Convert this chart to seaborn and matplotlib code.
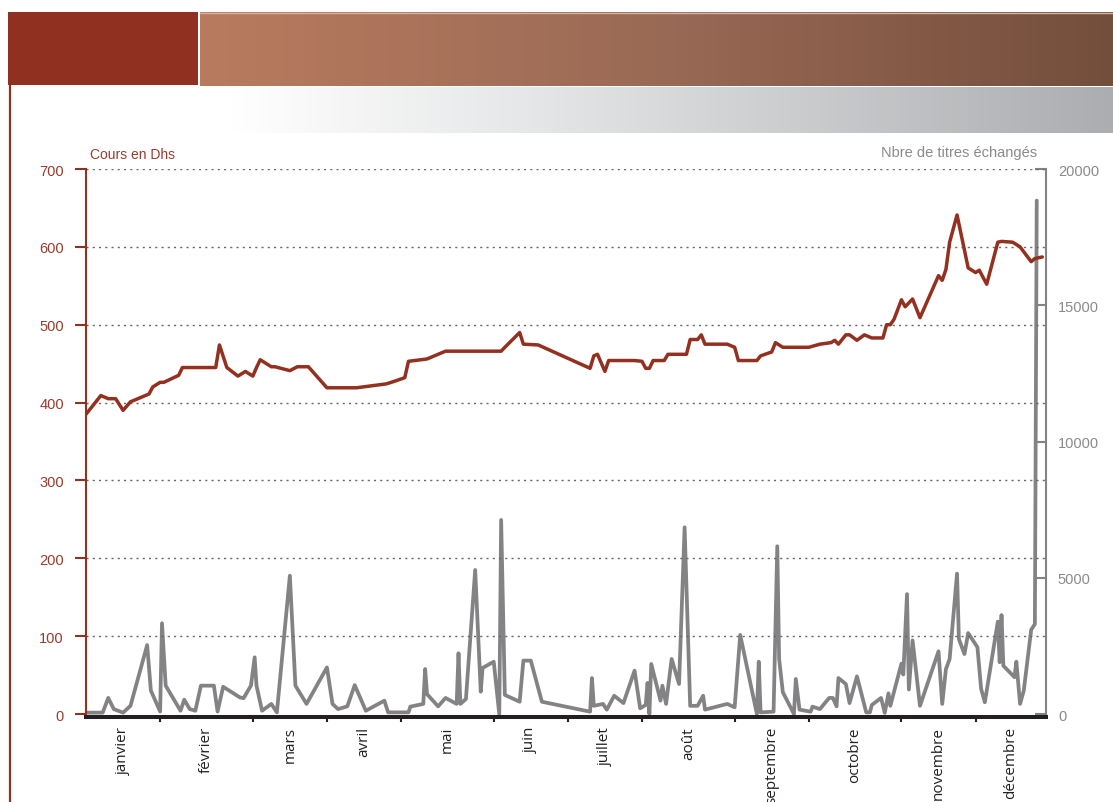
import matplotlib
matplotlib.use("Agg")
import matplotlib.pyplot as plt
import numpy as np
import seaborn as sns
from matplotlib.colors import LinearSegmentedColormap
from matplotlib.patches import Rectangle

# ── données ──
mois = ["janvier", "février", "mars", "avril", "mai", "juin", "juillet",
        "août", "septembre", "octobre", "novembre", "décembre"]
seances_par_mois = [20, 25, 20, 20, 25, 20, 20, 25, 20, 25, 20, 19]

# cours de clôture (Dhs), par numéro de séance
cours_seance = [0, 4, 6, 8, 10, 12, 17, 18, 20, 21, 25, 26, 35, 36, 38, 41, 43,
                45, 46, 47, 50, 51, 55, 57, 60, 65, 73, 81, 83, 86, 87, 92, 97,
                112, 113, 117, 118, 122, 136, 137, 138, 140, 141, 148, 150, 151,
                152, 153, 156, 157, 162, 163, 165, 166, 167, 173, 175, 176, 181,
                182, 185, 186, 188, 195, 198, 201, 202, 203, 205, 206, 208, 210,
                212, 215, 216, 217, 218, 220, 221, 223, 225, 230, 231, 232, 233,
                235, 238, 240, 241, 243, 246, 247, 250, 252, 255, 256, 258]
cours_dhs = [385, 409, 405, 405, 390, 401, 411, 420, 426, 426, 435, 445, 445,
             474, 445, 434, 440, 434, 445, 455, 446, 446, 441, 446, 446, 419,
             419, 424, 427, 432, 453, 456, 466, 466, 471, 490, 475, 474, 444,
             460, 462, 440, 454, 454, 453, 444, 444, 454, 454, 462, 462, 481,
             481, 487, 475, 475, 471, 454, 454, 460, 465, 477, 471, 471, 475,
             477, 480, 475, 487, 487, 480, 487, 483, 483, 500, 500, 507, 532,
             523, 533, 509, 563, 557, 571, 606, 641, 573, 567, 570, 552, 606,
             607, 606, 600, 581, 585, 587]

# nombre de titres échangés, par numéro de séance
volume_seance = [0, 4.5, 6, 7.5, 10, 12, 16.5, 17.5, 20, 20.5, 21.5, 25.5, 26.5,
                 28, 29.5, 31, 34.5, 35.5, 37, 41.5, 42.5, 44.5, 45.5, 46, 47.5,
                 50, 51.5, 55, 56.5, 59.5, 65, 66.5, 68, 70.5, 72.5, 75.5, 80.5,
                 81.5, 87, 87.5, 91, 91.5, 92, 95, 97, 100, 100.5, 101, 102.5,
                 105, 106.5, 107, 110, 111.5, 112, 113, 117, 118, 120, 123, 136,
                 136.5, 137, 139.5, 140.5, 142.5, 145, 148, 149.5, 151, 151.5,
                 152, 152.5, 155, 155.5, 156.5, 158, 160, 161.5, 163, 165, 166.5,
                 167, 173, 175, 176.5, 181, 181.5, 182, 185.5, 186.5, 187, 188,
                 191, 191.5, 192.5, 195.5, 196, 198, 200.5, 201.5, 202.5, 203,
                 205, 206, 208, 210.5, 211.5, 212, 214.5, 215.5, 216.5, 217, 220,
                 220.5, 221.5, 222, 223, 225, 230, 231, 232, 233, 235, 235.5, 237,
                 238, 240.5, 241.5, 242.5, 246, 246.5, 247, 247.5, 250.5, 251,
                 252, 253, 255, 256, 256.5]
volume_titres = [50, 50, 590, 180, 50, 300, 2530, 860, 90, 3330, 1040, 120, 525,
                 180, 120, 1040, 1040, 90, 1000, 610, 580, 1040, 2080, 1040, 120,
                 370, 60, 5075, 1040, 370, 1710, 370, 180, 280, 1060, 120, 490,
                 60, 60, 270, 370, 1650, 730, 280, 590, 370, 2230, 370, 550,
                 5285, 820, 1690, 1920, 0, 7120, 700, 450, 1960, 1960, 450, 85,
                 1320, 300, 370, 160, 670, 400, 1590, 210, 330, 1140, 0, 1835,
                 490, 1040, 370, 2020, 1100, 6850, 300, 300, 670, 160, 370, 245,
                 2900, 0, 1920, 60, 85, 6155, 2020, 800, 0, 1285, 160, 85, 270,
                 180, 590, 590, 280, 1320, 1100, 400, 1380, 60, 60, 330, 590, 40,
                 760, 300, 1850, 1450, 4400, 900, 2700, 300, 2300, 370, 1650,
                 2020, 5150, 2750, 2200, 2970, 2450, 920, 430, 3390, 1900, 3630,
                 1770, 1350, 1920, 370, 855, 3090, 3300, 18840]

ROUGE = "#93301f"
ROUGE_TXT = "#9a3b2c"
GRIS = "#838386"
GRIS_TXT = "#8a8a8d"
NOIR = "#231f20"

sns.set_style("white")
plt.rcParams["font.family"] = ["Liberation Sans", "DejaVu Sans"]

W, H = 1113, 803
fig = plt.figure(figsize=(W / 100, H / 100), dpi=100)

# ── bandeau décoratif (coordonnées pixels) ──
bg = fig.add_axes([0, 0, 1, 1], zorder=-10)
bg.axis("off")
bg.add_patch(Rectangle((8, 13), 190, 73, color="#8f3020", lw=0))
grad = np.linspace(0, 1, 256).reshape(1, -1)
cm_brun = LinearSegmentedColormap.from_list("brun", ["#b97b5f", "#9a6a55", "#744e3c"])
cm_gris = LinearSegmentedColormap.from_list("gris", ["#ffffff", "#e6e7e8", "#c9cacc", "#acadb0"])
bg.imshow(grad, extent=(200, W, 87, 13), aspect="auto", cmap=cm_brun)
bg.imshow(grad, extent=(230, W, 134, 88), aspect="auto", cmap=cm_gris)
bg.plot([200, W], [13.5, 13.5], color="#d2b5a7", lw=1)
bg.plot([10, 10], [86, H], color="#8f3020", lw=1.6)
bg.set_xlim(0, W)
bg.set_ylim(H, 0)

# ── graphique ──
ax = fig.add_axes([86 / W, (H - 718) / H, 960 / W, 548 / H])
ax2 = ax.twinx()

sns.lineplot(x=volume_seance, y=volume_titres, ax=ax2, color=GRIS, lw=2.7,
             estimator=None, sort=False)
sns.lineplot(x=cours_seance, y=cours_dhs, ax=ax, color=ROUGE, lw=2.5,
             estimator=None, sort=False)
ax.set_zorder(ax2.get_zorder() + 1)
ax.patch.set_visible(False)

bornes = np.cumsum(seances_par_mois)
milieux = bornes - np.array(seances_par_mois) / 2
ax.set_xlim(0, bornes[-1])
ax.set_ylim(-3.85, 700)
ax2.set_ylim(-110, 20000)

ax.set_yticks(range(0, 701, 100))
ax2.set_yticks(range(0, 20001, 5000))
ax.set_xticks(bornes[:-1])
ax.set_xticklabels([])
ax.set_xticks(milieux, minor=True)
ax.set_xticklabels(mois, minor=True, rotation=90, va="top", ha="center",
                   fontsize=11, color=NOIR, family=["Open Sans", "DejaVu Sans"])

ax.tick_params(axis="y", direction="out", length=8, width=1.5, color=ROUGE,
               labelcolor=ROUGE_TXT, labelsize=10.5, pad=8, left=True)
ax.tick_params(axis="x", which="major", direction="out", length=3.6, width=1.5,
               color=NOIR, bottom=True)
ax.tick_params(axis="x", which="minor", length=0, pad=6.5)
ax2.tick_params(axis="y", direction="in", length=8, width=1.5, color=GRIS,
                labelcolor=GRIS_TXT, labelsize=10.5, pad=8.6, right=True)

ax.yaxis.grid(True, linestyle=(0, (1.5, 3)), color="#666666", lw=1)
ax.xaxis.grid(False)
ax2.grid(False)
ax.yaxis.get_gridlines()[0].set_visible(False)

for s in ["top", "right"]:
    ax.spines[s].set_visible(False)
for s in ["top", "left", "bottom"]:
    ax2.spines[s].set_visible(False)
ax.spines["left"].set_color(ROUGE)
ax.spines["left"].set_linewidth(1.5)
ax.spines["bottom"].set_color(NOIR)
ax.spines["bottom"].set_linewidth(2.9)
ax2.spines["right"].set_color(GRIS)
ax2.spines["right"].set_linewidth(1.5)
ax.set_xlabel("")
ax.set_ylabel("")
ax2.set_ylabel("")

fig.text(90 / W, 1 - 155 / H, "Cours en Dhs", color=ROUGE_TXT, fontsize=10,
         ha="left", va="center")
fig.text(1037 / W, 1 - 153 / H, "Nbre de titres échangés", color=GRIS_TXT,
         fontsize=10.5, ha="right", va="center")

fig.savefig("out.png", dpi=100)
